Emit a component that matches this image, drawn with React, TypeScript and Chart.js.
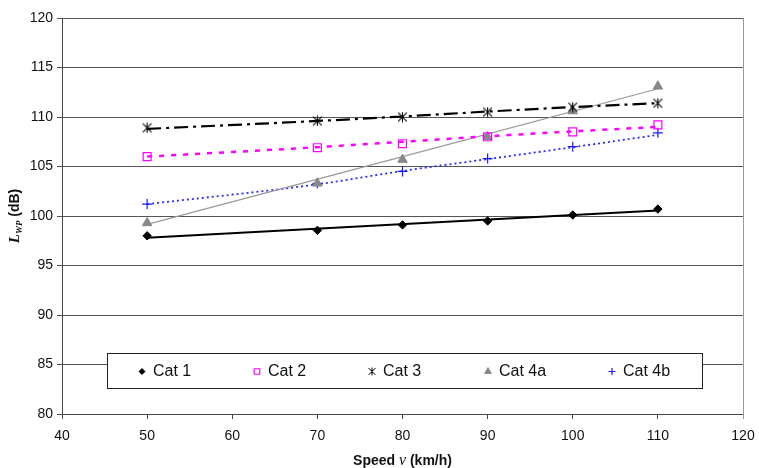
import React, { useEffect, useRef } from "react";
import { Chart, registerables } from "chart.js";
import { drawPoint } from "chart.js/helpers";
Chart.register(...registerables);

// Measured points
const speeds = [50, 70, 80, 90, 100, 110];
const cat1 = [98.0, 98.55, 99.1, 99.5, 100.1, 100.7];
const cat2 = [106.0, 106.9, 107.3, 108.0, 108.5, 109.2];
const cat3 = [108.9, 109.6, 110.0, 110.5, 111.0, 111.4];
const cat4a = [99.3, 103.3, 105.7, 108.0, 110.6, 113.1];
const cat4b = [101.2, 103.3, 104.5, 105.8, 107.0, 108.4];

// Trend lines
const trendSpeeds = [50, 70, 80, 90, 100, 110];
const trend1Speeds = [50, 110];
const trend1 = [97.8, 100.55];
const trend2 = [106.0, 106.95, 107.5, 108.05, 108.55, 109.0];
const trend3 = [108.8, 109.6, 110.05, 110.55, 111.0, 111.4];
const trend4aSpeeds = [50, 110];
const trend4a = [99.15, 112.85];
const trend4b = [101.2, 103.2, 104.55, 105.75, 106.95, 108.2];

const seriesLabels = ["Cat 1", "Cat 2", "Cat 3", "Cat 4a", "Cat 4b"];

const pts = (xs: number[], ys: number[]) => xs.map((x, i) => ({ x, y: ys[i] }));

function makeAsterisk(size: number, lw: number): HTMLCanvasElement {
  const c = document.createElement("canvas");
  c.width = size;
  c.height = size;
  const g = c.getContext("2d") as CanvasRenderingContext2D;
  g.strokeStyle = "#000";
  g.lineWidth = lw;
  const m = size / 2;
  const r = size / 2 - 0.5;
  g.beginPath();
  g.moveTo(m, m - r);
  g.lineTo(m, m + r);
  g.moveTo(m - r * 0.87, m - r * 0.87);
  g.lineTo(m + r * 0.87, m + r * 0.87);
  g.moveTo(m + r * 0.87, m - r * 0.87);
  g.lineTo(m - r * 0.87, m + r * 0.87);
  g.stroke();
  return c;
}

const markerStyles: any[] = [
  { pointStyle: "rectRot", radius: 4.2, backgroundColor: "#000", borderColor: "#000", borderWidth: 1 },
  { pointStyle: "rect", radius: 5.6, backgroundColor: "rgba(255,255,255,0)", borderColor: "#ff00ff", borderWidth: 1.2 },
  { pointStyle: "asterisk", radius: 5, backgroundColor: "#000", borderColor: "#000", borderWidth: 1 },
  { pointStyle: "triangle", radius: 5.5, backgroundColor: "#888", borderColor: "#888", borderWidth: 1 },
  { pointStyle: "cross", radius: 5, backgroundColor: "#1a1aff", borderColor: "#1a1aff", borderWidth: 1.2 },
];

const overlay = {
  id: "overlay",
  afterDraw(chart: any) {
    const ctx = chart.ctx as CanvasRenderingContext2D;
    const a = chart.chartArea;
    ctx.save();
    // right frame line
    ctx.strokeStyle = "#999";
    ctx.lineWidth = 1;
    ctx.beginPath();
    ctx.moveTo(Math.round(a.right) + 0.5, a.top);
    ctx.lineTo(Math.round(a.right) + 0.5, a.bottom + 5);
    ctx.stroke();

    // legend box
    const bx = 107, by = 353, bw = 595, bh = 35;
    ctx.fillStyle = "#fff";
    ctx.fillRect(bx, by, bw, bh);
    ctx.strokeStyle = "#222";
    ctx.strokeRect(bx + 0.5, by + 0.5, bw, bh);
    const itemX = [142, 257, 372, 488, 612];
    const cy = by + bh / 2 + 1;
    const legendStar = makeAsterisk(9, 1);
    seriesLabels.forEach((lab, i) => {
      const m = markerStyles[i];
      ctx.fillStyle = m.backgroundColor;
      ctx.strokeStyle = m.borderColor;
      ctx.lineWidth = m.borderWidth;
      const ps = m.pointStyle === "asterisk" ? legendStar : m.pointStyle;
      drawPoint(ctx, { pointStyle: ps, radius: m.radius * 0.7, rotation: 0, borderWidth: m.borderWidth } as any, itemX[i], cy);
      ctx.fillStyle = "#111";
      ctx.font = "16px Arial, 'Liberation Sans', sans-serif";
      ctx.textBaseline = "middle";
      ctx.textAlign = "left";
      ctx.fillText(lab, itemX[i] + 11, cy);
    });

    // x title: Speed v (km/h)
    const segsX = [
      { t: "Speed ", f: "bold 14px Arial, 'Liberation Sans', sans-serif" },
      { t: "v", f: "italic 16px 'Times New Roman', 'Liberation Serif', serif" },
      { t: " (km/h)", f: "bold 14px Arial, 'Liberation Sans', sans-serif" },
    ];
    let total = 0;
    segsX.forEach((s) => { ctx.font = s.f; total += ctx.measureText(s.t).width; });
    let x = (a.left + a.right) / 2 - total / 2;
    ctx.fillStyle = "#111";
    ctx.textBaseline = "alphabetic";
    segsX.forEach((s) => { ctx.font = s.f; ctx.fillText(s.t, x, 465); x += ctx.measureText(s.t).width; });

    // y title: L_WP (dB)
    ctx.translate(19, (a.top + a.bottom) / 2);
    ctx.rotate(-Math.PI / 2);
    const segsY = [
      { t: "L", f: "italic bold 15px 'Times New Roman', 'Liberation Serif', serif", dy: 0 },
      { t: "WP", f: "italic bold 9px 'Times New Roman', 'Liberation Serif', serif", dy: 3 },
      { t: " (dB)", f: "bold 14px Arial, 'Liberation Sans', sans-serif", dy: 0 },
    ];
    total = 0;
    segsY.forEach((s) => { ctx.font = s.f; total += ctx.measureText(s.t).width; });
    x = -total / 2;
    segsY.forEach((s) => { ctx.font = s.f; ctx.fillText(s.t, x, s.dy); x += ctx.measureText(s.t).width; });
    ctx.restore();
  },
};

export default function App() {
  const ref = useRef<HTMLCanvasElement | null>(null);
  useEffect(() => {
    document.body.style.margin = "0";
    const star = makeAsterisk(11, 1.1);
    const markerData = [cat1, cat2, cat3, cat4a, cat4b];
    const markerSets = markerData.map((ys, i) => ({
      label: seriesLabels[i],
      data: pts(speeds, ys),
      showLine: false,
      pointStyle: markerStyles[i].pointStyle === "asterisk" ? star : markerStyles[i].pointStyle,
      pointRadius: markerStyles[i].radius,
      pointBackgroundColor: markerStyles[i].backgroundColor,
      pointBorderColor: markerStyles[i].borderColor,
      pointBorderWidth: markerStyles[i].borderWidth,
      order: 1,
    }));
    const lineSet = (label: string, xs: number[], ys: number[], color: string, width: number, dash: number[]) => ({
      label,
      data: pts(xs, ys),
      showLine: true,
      borderColor: color,
      borderWidth: width,
      borderDash: dash,
      pointRadius: 0,
      cubicInterpolationMode: "monotone",
      fill: false,
      order: 2,
    });
    const lineSets = [
      lineSet("Cat 1 trend", trend1Speeds, trend1, "#000", 2, []),
      lineSet("Cat 2 trend", trendSpeeds, trend2, "#ff00ff", 2.5, [5, 7]),
      lineSet("Cat 3 trend", trendSpeeds, trend3, "#000", 2.2, [14, 5, 3, 5]),
      lineSet("Cat 4a trend", trend4aSpeeds, trend4a, "#999", 1.2, []),
      lineSet("Cat 4b trend", trendSpeeds, trend4b, "#2a2aff", 1.8, [2, 3]),
    ];
    const chart = new Chart(ref.current as HTMLCanvasElement, {
      type: "scatter",
      data: { datasets: [...lineSets, ...markerSets] as any },
      options: {
        responsive: false,
        animation: false,
        layout: { padding: { top: 18, right: 16, left: 0, bottom: 0 } },
        plugins: { legend: { display: false }, tooltip: { enabled: false } },
        scales: {
          x: {
            type: "linear",
            min: 40,
            max: 120,
            ticks: { stepSize: 10, color: "#111", font: { size: 14, family: "Arial, 'Liberation Sans', sans-serif" }, padding: 9 },
            grid: { drawOnChartArea: false, drawTicks: true, tickLength: 5, color: "#444" },
            border: { display: true, color: "#444", width: 1 },
            afterFit: (s: any) => { s.height = 54; s.paddingRight = 10; s.paddingLeft = 10; },
          },
          y: {
            type: "linear",
            min: 80,
            max: 120,
            ticks: { stepSize: 5, color: "#111", font: { size: 14, family: "Arial, 'Liberation Sans', sans-serif" }, padding: 4 },
            grid: { drawTicks: true, tickLength: 5, color: "#555" },
            border: { display: true, color: "#444", width: 1 },
            afterFit: (s: any) => { s.width = 62; },
          },
        },
      } as any,
      plugins: [overlay],
    });
    return () => chart.destroy();
  }, []);
  return (
    <div style={{ position: "absolute", left: 0, top: 0, width: 759, height: 468, background: "#fff" }}>
      <canvas ref={ref} width={759} height={468} />
    </div>
  );
}
